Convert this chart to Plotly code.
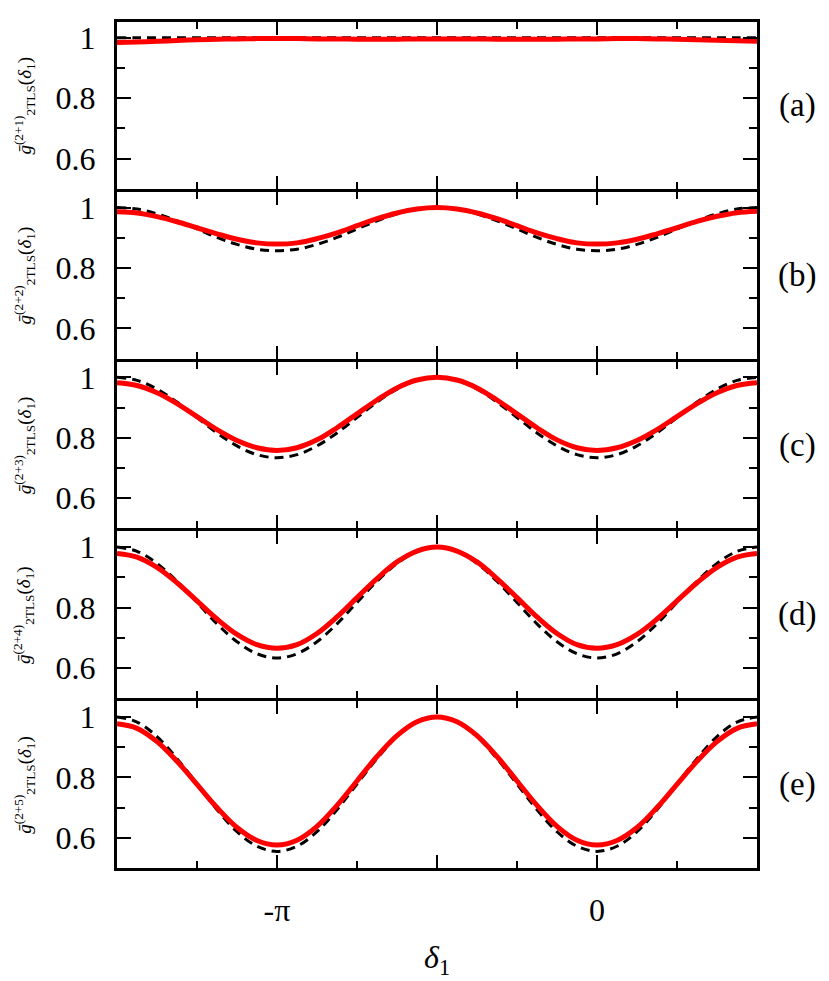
import numpy as np
import plotly.graph_objects as go
from plotly.subplots import make_subplots

# delta_1 grid, steps of pi/16 from -3pi/2 to pi/2
delta1 = [k * np.pi / 16 for k in range(-24, 9)]

# panel labels and excitation numbers
panels = ["(a)", "(b)", "(c)", "(d)", "(e)"]
orders = ["2+1", "2+2", "2+3", "2+4", "2+5"]

# dashed black curves
dash_a = [1.0] * 33
dash_b = [1.0, 0.995, 0.979, 0.956, 0.929, 0.901, 0.878, 0.862, 0.857,
          0.862, 0.878, 0.901, 0.929, 0.956, 0.979, 0.995, 1.0,
          0.995, 0.979, 0.956, 0.929, 0.901, 0.878, 0.862, 0.857,
          0.862, 0.878, 0.901, 0.929, 0.956, 0.979, 0.995, 1.0]
dash_c = [1.0, 0.990, 0.961, 0.918, 0.867, 0.816, 0.773, 0.744, 0.734,
          0.744, 0.773, 0.816, 0.867, 0.918, 0.961, 0.990, 1.0,
          0.990, 0.961, 0.918, 0.867, 0.816, 0.773, 0.744, 0.734,
          0.744, 0.773, 0.816, 0.867, 0.918, 0.961, 0.990, 1.0]
dash_d = [1.0, 0.986, 0.946, 0.887, 0.817, 0.746, 0.687, 0.647, 0.633,
          0.647, 0.687, 0.746, 0.817, 0.887, 0.946, 0.986, 1.0,
          0.986, 0.946, 0.887, 0.817, 0.746, 0.687, 0.647, 0.633,
          0.647, 0.687, 0.746, 0.817, 0.887, 0.946, 0.986, 1.0]
dash_e = [1.0, 0.983, 0.935, 0.862, 0.778, 0.693, 0.620, 0.572, 0.555,
          0.572, 0.620, 0.693, 0.778, 0.862, 0.935, 0.983, 1.0,
          0.983, 0.935, 0.862, 0.778, 0.693, 0.620, 0.572, 0.555,
          0.572, 0.620, 0.693, 0.778, 0.862, 0.935, 0.983, 1.0]

# red curves
red_a = [0.984, 0.986, 0.988, 0.991, 0.993, 0.995, 0.996, 0.997, 0.997,
         0.997, 0.996, 0.996, 0.995, 0.995, 0.995, 0.996, 0.996,
         0.996, 0.996, 0.995, 0.995, 0.995, 0.995, 0.996, 0.996,
         0.997, 0.997, 0.996, 0.995, 0.993, 0.992, 0.990, 0.988]
red_b = [0.986, 0.982, 0.970, 0.953, 0.933, 0.913, 0.895, 0.883, 0.879,
         0.883, 0.897, 0.916, 0.940, 0.963, 0.982, 0.995, 1.0,
         0.995, 0.982, 0.963, 0.940, 0.916, 0.897, 0.883, 0.879,
         0.883, 0.895, 0.913, 0.933, 0.954, 0.971, 0.983, 0.988]
red_c = [0.982, 0.973, 0.949, 0.913, 0.870, 0.827, 0.791, 0.767, 0.758,
         0.767, 0.793, 0.833, 0.879, 0.925, 0.965, 0.991, 1.0,
         0.991, 0.965, 0.925, 0.879, 0.833, 0.793, 0.767, 0.758,
         0.767, 0.791, 0.827, 0.870, 0.913, 0.949, 0.973, 0.982]
red_d = [0.979, 0.967, 0.933, 0.882, 0.822, 0.762, 0.711, 0.677, 0.665,
         0.677, 0.714, 0.769, 0.833, 0.896, 0.951, 0.987, 1.0,
         0.987, 0.951, 0.896, 0.833, 0.769, 0.714, 0.677, 0.665,
         0.677, 0.711, 0.762, 0.822, 0.882, 0.933, 0.967, 0.979]
red_e = [0.977, 0.962, 0.918, 0.853, 0.777, 0.700, 0.634, 0.591, 0.576,
         0.592, 0.638, 0.707, 0.788, 0.869, 0.938, 0.984, 1.0,
         0.984, 0.938, 0.869, 0.788, 0.707, 0.638, 0.592, 0.576,
         0.591, 0.634, 0.700, 0.777, 0.853, 0.918, 0.962, 0.977]

dashed = [dash_a, dash_b, dash_c, dash_d, dash_e]
reds = [red_a, red_b, red_c, red_d, red_e]

FONT = "Times New Roman, Liberation Serif, Tinos, DejaVu Serif, serif"

# page body has an 8px margin, so the figure is sized 8px smaller
W, H = 821, 973
fig = make_subplots(rows=5, cols=1, shared_xaxes=True,
                    vertical_spacing=3 / 849)

for i in range(5):
    row = i + 1
    fig.add_trace(go.Scatter(x=delta1, y=dashed[i], mode="lines",
                             line=dict(color="black", width=3, dash="9px,6px",
                                       shape="spline", smoothing=1.0),
                             showlegend=False, hoverinfo="none"), row=row, col=1)
    fig.add_trace(go.Scatter(x=delta1, y=reds[i], mode="lines",
                             line=dict(color="#ff0000", width=5,
                                       shape="spline", smoothing=1.0),
                             showlegend=False, hoverinfo="none"), row=row, col=1)

    fig.update_yaxes(range=[0.50, 1.052], tickvals=[0.6, 0.8, 1.0],
                     ticktext=["0.6", "0.8", "1"],
                     ticks="inside", ticklen=14, tickwidth=2, tickcolor="black",
                     minor=dict(tickvals=[0.7, 0.9], ticks="inside", ticklen=8,
                                tickwidth=1.5, tickcolor="black"),
                     showline=True, linewidth=3, linecolor="black", mirror="ticks",
                     showgrid=False, zeroline=False, ticklabelstandoff=12,
                     tickfont=dict(family=FONT, size=32, color="black"),
                     row=row, col=1)

    fig.update_xaxes(range=[-1.5 * np.pi, 0.5 * np.pi],
                     tickvals=[-1.5 * np.pi, -np.pi, -0.5 * np.pi, 0, 0.5 * np.pi],
                     ticktext=["", "-π", "", "0", ""],
                     ticks="inside", ticklen=13, tickwidth=2, tickcolor="black",
                     minor=dict(tickvals=[-1.25 * np.pi, -0.75 * np.pi,
                                          -0.25 * np.pi, 0.25 * np.pi],
                                ticks="inside", ticklen=7, tickwidth=1.5,
                                tickcolor="black"),
                     showline=True, linewidth=3, linecolor="black", mirror="ticks",
                     showgrid=False, zeroline=False, ticklabelstandoff=12,
                     tickfont=dict(family=FONT, size=32, color="black"),
                     row=row, col=1)

    ydom = "y domain" if i == 0 else "y%d domain" % row
    # panel label on the right
    fig.add_annotation(text=panels[i], xref="paper", yref=ydom, x=1.0625, y=0.5,
                       showarrow=False, xanchor="center", yanchor="middle",
                       font=dict(family=FONT, size=33, color="black"))
    # y-axis label
    fig.add_annotation(text="<i>ḡ</i><sup>(%s)</sup><sub>2TLS</sub>(<i>δ</i><sub>1</sub>)" % orders[i],
                       xref="paper", yref=ydom, x=-0.145, y=0.5, textangle=-90,
                       showarrow=False, xanchor="center", yanchor="middle",
                       font=dict(family=FONT, size=19, color="black"))

# x-axis label
fig.add_annotation(text="<i>δ</i><sub>1</sub>", xref="x5", yref="paper",
                   x=-0.5 * np.pi, y=-0.108, showarrow=False,
                   xanchor="center", yanchor="middle",
                   font=dict(family=FONT, size=32, color="black"))

fig.update_layout(width=W, height=H,
                  margin=dict(l=109, r=72, t=11, b=113),
                  paper_bgcolor="white", plot_bgcolor="white",
                  font=dict(family=FONT, color="black"))

fig.write_html("out.html")
